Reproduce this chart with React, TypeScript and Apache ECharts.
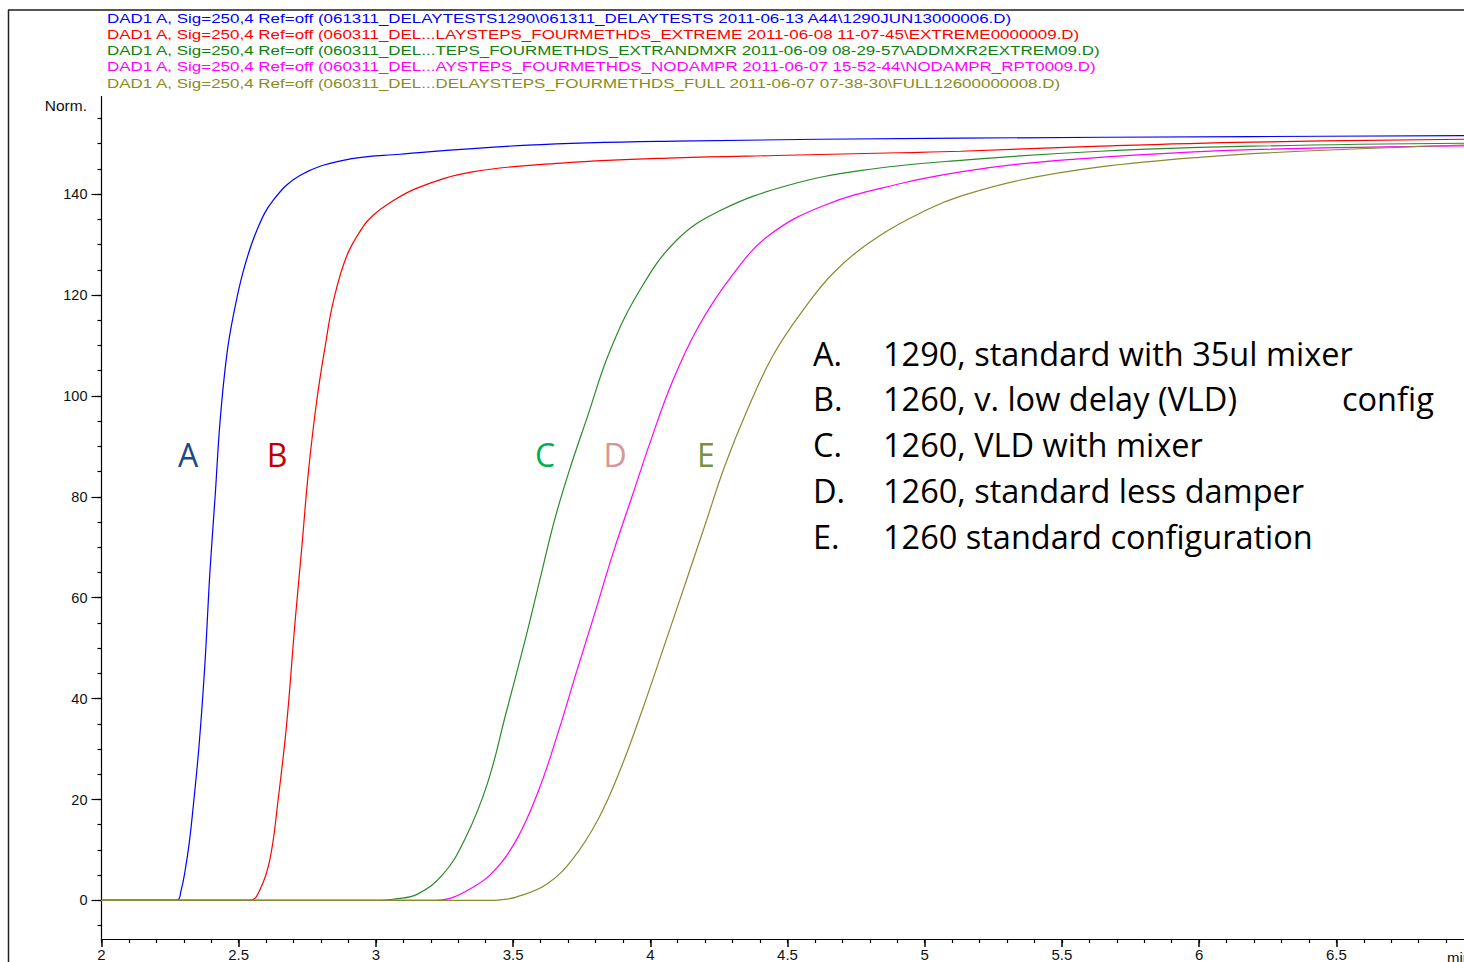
import React, { useEffect, useRef } from "react";
import * as echarts from "echarts";

// ---- axis ticks ----
const xTickLabels = [2, 2.5, 3, 3.5, 4, 4.5, 5, 5.5, 6, 6.5, 7];
const xMinorTicks = Array.from({ length: 53 }, (_, i) => +(2 + i * 0.1).toFixed(1));
const yTickLabels = [0, 20, 40, 60, 80, 100, 120, 140];
const yMinorTicks = Array.from({ length: 33 }, (_, i) => -5 + i * 5);

// ---- series data: [time (min), signal (Norm.)] ----
const seriesA: [number, number][] = [
  [2.0, 0], [2.274, 0], [2.29, 2], [2.305, 6], [2.32, 11.5], [2.335, 19], [2.356, 31],
  [2.377, 47], [2.395, 65], [2.414, 80], [2.432, 94.9], [2.456, 107.9], [2.48, 115.8],
  [2.517, 124.8], [2.566, 132.8], [2.626, 138.8], [2.723, 143.7], [2.881, 146.7],
  [3.088, 147.9], [3.554, 149.7], [4.094, 150.5], [5.131, 151.1], [6.187, 151.4], [7.0, 151.6],
];
const seriesB: [number, number][] = [
  [2.0, 0], [2.541, 0], [2.578, 2.2], [2.614, 8.2], [2.644, 20.1], [2.675, 35.1],
  [2.705, 55], [2.73, 70], [2.754, 84.9], [2.784, 98.9], [2.815, 109.8], [2.845, 118.8],
  [2.894, 127.8], [2.954, 133.6], [2.99, 135.8], [3.04, 137.9], [3.15, 141.2], [3.352, 144.4],
  [3.689, 146.2], [4.094, 147.2], [4.498, 147.7], [4.905, 148.2], [5.131, 148.5],
  [5.64, 149.5], [6.187, 150.3], [7.0, 150.9],
];
const seriesC: [number, number][] = [
  [2.0, 0], [3.015, 0], [3.07, 0.3], [3.15, 1.2], [3.245, 5.2], [3.325, 12.2],
  [3.406, 23.1], [3.474, 37.1], [3.541, 51], [3.595, 63], [3.649, 75], [3.703, 84.9],
  [3.771, 95.9], [3.852, 108.8], [3.96, 120.8], [4.095, 130.8], [4.257, 136.8],
  [4.5, 141.7], [4.77, 144.7], [5.131, 146.7], [5.64, 148.5], [6.187, 149.5], [7.0, 150.1],
];
const seriesD: [number, number][] = [
  [2.0, 0], [3.218, 0], [3.27, 0.4], [3.325, 1.7], [3.419, 5.2], [3.514, 12.2],
  [3.595, 22.1], [3.663, 33.1], [3.73, 45.1], [3.798, 57], [3.865, 69], [3.933, 80],
  [4.0, 90.9], [4.081, 102.9], [4.176, 113.8], [4.297, 123.8], [4.432, 131.8],
  [4.635, 137.8], [4.905, 142.0], [5.131, 144.4], [5.35, 146.0], [5.64, 147.3], [6.187, 148.8], [7.0, 149.6],
];
const seriesE: [number, number][] = [
  [2.0, 0], [3.419, 0], [3.452, 0.1], [3.514, 0.7], [3.622, 3.2], [3.717, 8.2],
  [3.811, 16.2], [3.892, 26.1], [3.973, 38.1], [4.054, 51], [4.135, 64], [4.203, 75],
  [4.27, 85.9], [4.351, 96.9], [4.446, 107.9], [4.554, 116.8], [4.675, 124.8],
  [4.837, 131.8], [5.012, 137.0], [5.131, 139.6], [5.35, 142.8], [5.64, 145.4], [6.0, 147.3],
  [6.369, 148.5], [7.0, 149.8],
];

const seriesData = [seriesA, seriesB, seriesC, seriesD, seriesE];
const seriesNames = ["A", "B", "C", "D", "E"];
const lineColors = ["#0000ff", "#ff0000", "#2a8a2a", "#ff00ff", "#8a8a2e"];

// ---- header (signal descriptions) ----
const headerLines = [
  "DAD1 A, Sig=250,4 Ref=off (061311_DELAYTESTS1290\\061311_DELAYTESTS 2011-06-13 A44\\1290JUN13000006.D)",
  "DAD1 A, Sig=250,4 Ref=off (060311_DEL...LAYSTEPS_FOURMETHDS_EXTREME 2011-06-08 11-07-45\\EXTREME0000009.D)",
  "DAD1 A, Sig=250,4 Ref=off (060311_DEL...TEPS_FOURMETHDS_EXTRANDMXR 2011-06-09 08-29-57\\ADDMXR2EXTREM09.D)",
  "DAD1 A, Sig=250,4 Ref=off (060311_DEL...AYSTEPS_FOURMETHDS_NODAMPR 2011-06-07 15-52-44\\NODAMPR_RPT0009.D)",
  "DAD1 A, Sig=250,4 Ref=off (060311_DEL...DELAYSTEPS_FOURMETHDS_FULL 2011-06-07 07-38-30\\FULL12600000008.D)",
];
const headerColors = ["#0000ff", "#ff0000", "#108010", "#ff00ff", "#8b8b1a"];

// ---- curve letters & legend notes ----
const curveLetters = ["A", "B", "C", "D", "E"];
const curveLetterColors = ["#1f497d", "#c00000", "#00b050", "#d99694", "#77933c"];
const noteKeys = ["A.", "B.", "C.", "D.", "E."];
const noteTexts = [
  "1290, standard with 35ul mixer",
  "1260, v. low delay (VLD)",
  "1260, VLD with mixer",
  "1260, standard less damper",
  "1260 standard configuration",
];

export default function App() {
  const ref = useRef<HTMLDivElement>(null);

  useEffect(() => {
    if (!ref.current) return;
    const chart = echarts.init(ref.current, undefined, { renderer: "svg" });
    const axisFont = "Liberation Sans, Arial, sans-serif";
    const noteFont = "Open Sans, sans-serif";

    const graphics: any[] = [];
    // frame
    graphics.push({
      type: "line", z: 100,
      shape: { x1: 8, y1: 10, x2: 1530, y2: 10 },
      style: { stroke: "#555", lineWidth: 2 },
    });
    graphics.push({
      type: "line", z: 100,
      shape: { x1: 8.5, y1: 10, x2: 8.5, y2: 962 },
      style: { stroke: "#222", lineWidth: 1.5 },
    });
    headerLines.forEach((t, i) => {
      graphics.push({
        type: "text", x: 107, y: 18 + i * 16.2, scaleX: 1.305,
        style: { text: t, fill: headerColors[i], font: `13px ${axisFont}`, textVerticalAlign: "middle", textAlign: "left" },
      });
    });
    graphics.push({
      type: "text", x: 87, y: 105,
      style: { text: "Norm.", fill: "#111", font: `15.5px ${axisFont}`, textAlign: "right", textVerticalAlign: "middle" },
    });
    graphics.push({
      type: "text", x: 1447, y: 957,
      style: { text: "min", fill: "#111", font: `15px ${axisFont}`, textAlign: "left", textVerticalAlign: "middle" },
    });
    const letterX = [188, 277, 545, 615, 706];
    curveLetters.forEach((l, i) => {
      graphics.push({
        type: "text", x: letterX[i], y: 454,
        style: { text: l, fill: curveLetterColors[i], font: `32px ${noteFont}`, textAlign: "center", textVerticalAlign: "middle" },
      });
    });
    noteKeys.forEach((k, i) => {
      const y = 353 + i * 45.8;
      graphics.push({
        type: "text", x: 813, y,
        style: { text: k, fill: "#000", font: `32.5px ${noteFont}`, textAlign: "left", textVerticalAlign: "middle" },
      });
      graphics.push({
        type: "text", x: 883, y,
        style: { text: noteTexts[i], fill: "#000", font: `32.5px ${noteFont}`, textAlign: "left", textVerticalAlign: "middle" },
      });
    });
    graphics.push({
      type: "text", x: 1342, y: 353 + 45.8,
      style: { text: "config", fill: "#000", font: `32.5px ${noteFont}`, textAlign: "left", textVerticalAlign: "middle" },
    });

    chart.setOption({
      animation: false,
      backgroundColor: "#fff",
      grid: { left: 101.5, top: 96.5, width: 1426.9, height: 844.5, containLabel: false },
      xAxis: [
        {
          type: "value", min: 2, max: 7.2, position: "bottom",
          axisLine: { show: true, onZero: false, lineStyle: { color: "#000", width: 1.2 } },
          axisTick: { show: true, customValues: xTickLabels, length: 8, lineStyle: { color: "#000", width: 1.5 } },
          axisLabel: { customValues: xTickLabels, margin: 8, fontSize: 15, color: "#111", fontFamily: axisFont, formatter: (v: number) => String(v) },
          splitLine: { show: false },
        },
        {
          type: "value", min: 2, max: 7.2, position: "bottom",
          axisLine: { show: false, onZero: false },
          axisTick: { show: true, customValues: xMinorTicks, length: 4, lineStyle: { color: "#000", width: 1.2 } },
          axisLabel: { show: false },
          splitLine: { show: false },
        },
      ],
      yAxis: [
        {
          type: "value", min: -7.65, max: 159.35, position: "left",
          axisLine: { show: true, onZero: false, lineStyle: { color: "#000", width: 1.2 } },
          axisTick: { show: true, customValues: yTickLabels, length: 10, lineStyle: { color: "#000", width: 1.2 } },
          axisLabel: { customValues: yTickLabels, margin: 14, fontSize: 14.5, color: "#111", fontFamily: axisFont },
          splitLine: { show: false },
        },
        {
          type: "value", min: -7.65, max: 159.35, position: "left",
          axisLine: { show: false, onZero: false },
          axisTick: { show: true, customValues: yMinorTicks, length: 4, lineStyle: { color: "#000", width: 1.2 } },
          axisLabel: { show: false },
          splitLine: { show: false },
        },
      ],
      series: seriesData.map((d, i) => ({
        name: seriesNames[i],
        type: "line",
        xAxisIndex: 0,
        yAxisIndex: 0,
        data: d,
        showSymbol: false,
        smooth: 0.4,
        lineStyle: { color: lineColors[i], width: 1.2 },
        z: 2 + i,
      })),
      graphic: graphics,
    });
    return () => chart.dispose();
  }, []);

  return (
    <div style={{ position: "fixed", left: 0, top: 0, width: 1464, height: 962, overflow: "hidden", background: "#fff" }}>
      <div ref={ref} style={{ width: 1530, height: 962 }} />
    </div>
  );
}
